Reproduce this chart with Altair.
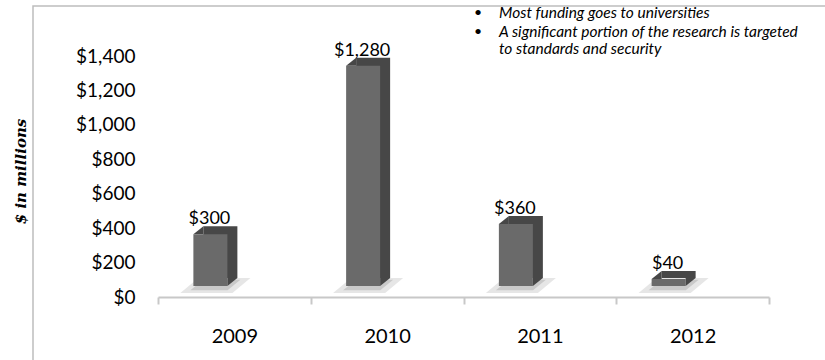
import altair as alt
import pandas as pd

years = ["2009", "2010", "2011", "2012"]
funding = [300, 1280, 360, 40]
value_labels = ["$300", "$1,280", "$360", "$40"]
y_title = "$ in millions"
notes = [
    "Most funding goes to universities",
    "A significant portion of the research is targeted",
    "to standards and security",
]
bullets = ["•", "•", ""]

df = pd.DataFrame({"year": years, "funding": funding, "label": value_labels})
df["zero"] = 0

W, H = 611, 241
PL, PT = 158, 56

x = alt.X("year:N", sort=years, scale=alt.Scale(paddingInner=0, paddingOuter=0),
          axis=alt.Axis(title=None, labelFont="Lato", labelFontSize=20, labelColor="#000",
                        labelAngle=0, domainColor="#c8c8c8", domainWidth=2,
                        tickColor="#c8c8c8", tickWidth=2, tickSize=7, tickBand="extent",
                        labelPadding=22))
y_axis = alt.Axis(title=y_title, values=list(range(0, 1401, 200)), format="$,.0f",
                  grid=False, domain=False, ticks=False, labelPadding=23, labelOverlap=False,
                  labelFont="Lato", labelFontSize=19, labelColor="#000",
                  titleFont="DejaVu Serif", titleFontStyle="italic", titleFontWeight="bold",
                  titleFontSize=15, titleColor="#000", titleAngle=-90,
                  titleX=20 - PL, titleY=171 - PT, titleAlign="center",
                  titleBaseline="middle")
y_scale = alt.Scale(domain=[0, 1400], nice=False)
y = alt.Y("funding:Q", scale=y_scale, axis=y_axis)
y0 = alt.Y("zero:Q", scale=y_scale, axis=y_axis)

base = alt.Chart(df)

border = alt.Chart(pd.DataFrame({"a": [0]})).mark_rect(
    fill=None, stroke="#bdbdbd", strokeWidth=1.5
).encode(x=alt.value(33 - PL), x2=alt.value(720), y=alt.value(6 - PT), y2=alt.value(330))

shadow_outer = base.mark_point(shape="M-1,0.214 L0.486,0.214 L1,-0.214 L-0.486,-0.214 Z",
                               filled=True, color="#e6e6e6", opacity=1, size=4900,
                               strokeWidth=0, xOffset=-19, yOffset=-11.5).encode(x=x, y=y0)
shadow_inner = base.mark_point(shape="M-1,0.214 L0.486,0.214 L1,-0.214 L-0.486,-0.214 Z",
                               filled=True, color="#c9c9c9", opacity=1, size=2500,
                               strokeWidth=0, xOffset=-19, yOffset=-12).encode(x=x, y=y0)

DARK = "#474747"
back = base.mark_bar(color=DARK, width=34, xOffset=-14, x2Offset=-14,
                     yOffset=-19, y2Offset=-19).encode(x=x, y=y, y2="zero:Q")
# bevel corners of the 3D box (top-left and bottom-right diagonal joins)
corner_top = base.mark_point(shape="M-1,0.8 L1,-0.8 L1,0.8 Z", filled=True, color=DARK,
                             opacity=1, size=100, strokeWidth=0,
                             xOffset=-36, yOffset=-15).encode(x=x, y=y)
corner_bottom = base.mark_point(shape="M-1,-0.8 L1,-0.8 L-1,0.8 Z", filled=True, color=DARK,
                                opacity=1, size=100, strokeWidth=0,
                                xOffset=-2, yOffset=-15).encode(x=x, y=y0)
front = base.mark_bar(color="#6a6a6a", width=34, xOffset=-24, x2Offset=-24,
                      yOffset=-11, y2Offset=-11).encode(x=x, y=y, y2="zero:Q")

labels = base.mark_text(font="Lato", fontSize=18, color="#000", baseline="middle",
                        xOffset=-25, yOffset=-26).encode(x=x, y=y, text="label:N")

note_rows = [13, 31.5, 49]
note_layers = []
for t, b, yy in zip(notes, bullets, note_rows):
    note_layers.append(
        alt.Chart(pd.DataFrame({"t": [t]})).mark_text(
            font="Lato", fontStyle="italic", fontSize=15.5, color="#000",
            align="left", baseline="middle"
        ).encode(x=alt.value(499 - PL), y=alt.value(yy - PT), text="t:N")
    )
    if b:
        note_layers.append(
            alt.Chart(pd.DataFrame({"t": [b]})).mark_text(
                font="Lato", fontSize=14, color="#000", align="center", baseline="middle"
            ).encode(x=alt.value(478 - PL), y=alt.value(yy - PT), text="t:N")
        )

chart = alt.layer(border, shadow_outer, shadow_inner, back, corner_top, corner_bottom, front,
                  labels, *note_layers).properties(
    width=W, height=H,
    autosize=alt.AutoSizeParams(type="none"),
    padding={"left": PL, "top": PT, "right": 825 - PL - W, "bottom": 360 - PT - H},
).configure(background="white").configure_view(stroke=None)

chart.save("out.html", embed_options={"renderer": "svg", "actions": False})
